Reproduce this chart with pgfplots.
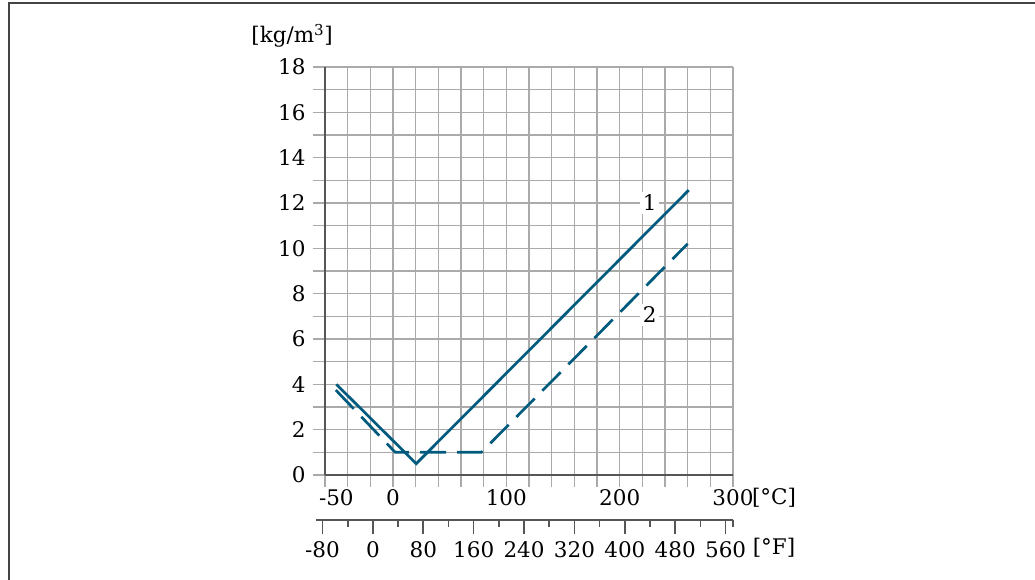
\documentclass[border=0pt]{standalone}
\usepackage{fontspec}
\setmainfont{DejaVu Serif}
\usepackage{pgfplots}
\pgfplotsset{compat=1.18}
\definecolor{ehblue}{RGB}{0,90,125}
\definecolor{gridc}{RGB}{170,170,170}
\definecolor{axc}{RGB}{85,85,85}
\definecolor{framec}{RGB}{68,68,68}
\newcommand{\chartfont}{\fontsize{21.5}{25}\selectfont}
\begin{document}
\begin{tikzpicture}[x=1pt,y=1pt,font=\chartfont]
\useasboundingbox (0,0) rectangle (1035,579);
\draw[line width=2pt, color=framec] (8.5,-2) -- (8.5,575.5) -- (1037,575.5);
% Celsius / density axis
\begin{axis}[
  at={(325pt,104pt)}, anchor=south west,
  scale only axis, width=408pt, height=408pt,
  xmin=-60, xmax=300, ymin=0, ymax=18,
  axis x line*=bottom, axis y line*=left,
  axis line style={line width=1.6pt, color=axc},
  xtick={-60,-40,...,300}, xticklabels={},
  extra x ticks={-50,0,100,200,300},
  extra x tick labels={-50,0,100,200,300},
  extra x tick style={grid=none, major tick length=0pt,
     xticklabel style={yshift=-11pt}},
  ytick={0,2,...,18}, yticklabels={0,2,4,6,8,10,12,14,16,18},
  yticklabel style={xshift=-4pt},
  minor ytick={1,3,...,17},
  grid=both,
  major grid style={line width=1.3pt, color=gridc},
  minor grid style={line width=1.3pt, color=gridc},
  tick align=outside,
  major tick length=12pt, minor tick length=12pt,
  tick style={line width=1.3pt, color=gridc},
  tick label style={font=\chartfont},
  clip=false,
]
\addplot[ehblue, line width=2.7pt] coordinates {(-50,4.0) (20.5,0.5) (261,12.57)};
\addplot[ehblue, line width=2.7pt, dash pattern=on 26pt off 11pt] coordinates {(-50.5,3.75) (2,1) (78,1) (260,10.2)};
\node[fill=white, inner sep=3pt, font=\chartfont] at (axis cs:226.4,12.0) {1};
\node[fill=white, inner sep=3pt, font=\chartfont] at (axis cs:226.4,7.06) {2};
\end{axis}
% Fahrenheit axis
\begin{axis}[
  at={(316.2pt,59pt)}, anchor=south west,
  scale only axis, width=417pt, height=10pt,
  xmin=-90, xmax=572, ymin=0, ymax=1,
  axis x line*=bottom, hide y axis,
  axis line style={line width=1.6pt, color=axc},
  xtick={-80,0,...,560},
  xticklabels={-80,0,80,160,240,320,400,480,560},
  xticklabel style={yshift=-4pt},
  minor xtick={-40,40,...,520,572},
  tick align=outside,
  major tick length=14pt, minor tick length=7pt,
  tick style={line width=1.6pt, color=axc},
  tick label style={font=\chartfont},
]
\end{axis}
\node at (292,543) {[kg/m\textsuperscript{3}]};
\node at (774,81) {[°C]};
\node at (774,31) {[°F]};
\end{tikzpicture}
\end{document}
